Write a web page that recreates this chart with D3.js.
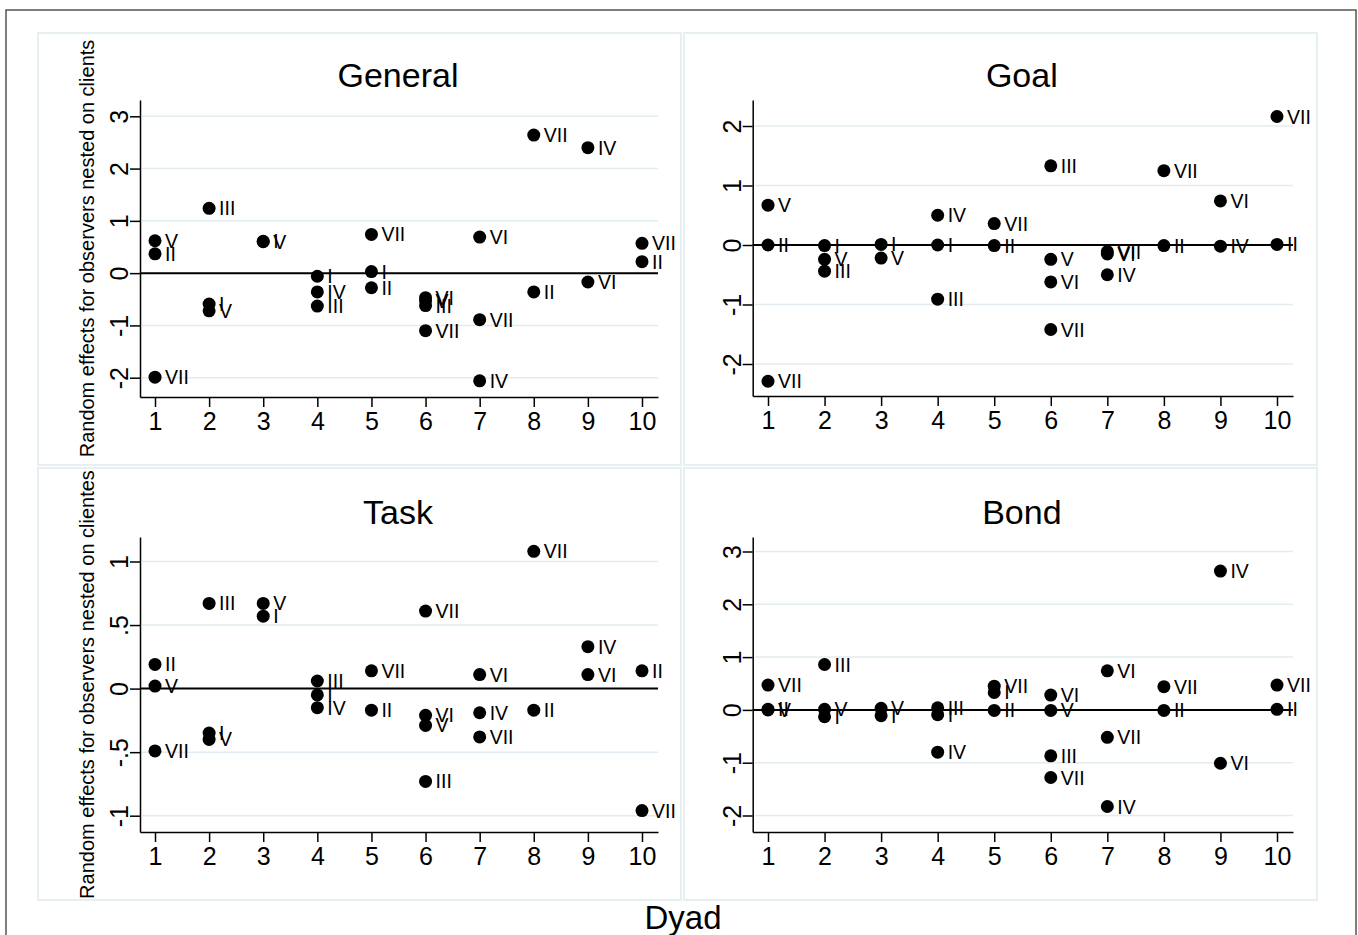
<!DOCTYPE html>
<html>
<head>
<meta charset="utf-8">
<script src="https://cdn.jsdelivr.net/npm/d3@7"></script>
<style>
  body { margin: 0; background: #fff; }
  text { font-family: "Liberation Sans", Arial, sans-serif; fill: #000; }
</style>
</head>
<body>
<svg id="chart" width="1358" height="935"></svg>
<script>
// Random effects per dyad: [dyad, observer, value]
var generalPts = [
  [1,'V',0.62],[1,'II',0.37],[1,'VII',-1.99],
  [2,'III',1.24],[2,'I',-0.59],[2,'V',-0.72],
  [3,'I',0.61],[3,'V',0.60],
  [4,'I',-0.06],[4,'IV',-0.36],[4,'III',-0.63],
  [5,'VII',0.74],[5,'I',0.03],[5,'II',-0.28],
  [6,'VI',-0.47],[6,'V',-0.53],[6,'III',-0.62],[6,'VII',-1.10],
  [7,'VI',0.69],[7,'VII',-0.89],[7,'IV',-2.06],
  [8,'VII',2.64],[8,'II',-0.36],
  [9,'IV',2.40],[9,'VI',-0.17],
  [10,'VII',0.57],[10,'II',0.22]
];
var goalPts = [
  [1,'V',0.67],[1,'II',0.0],[1,'VII',-2.29],
  [2,'I',-0.01],[2,'V',-0.24],[2,'III',-0.44],
  [3,'I',0.01],[3,'V',-0.22],
  [4,'IV',0.50],[4,'I',0.0],[4,'III',-0.91],
  [5,'VII',0.36],[5,'II',-0.01],
  [6,'III',1.33],[6,'V',-0.24],[6,'VI',-0.62],[6,'VII',-1.42],
  [7,'VII',-0.11],[7,'VI',-0.15],[7,'IV',-0.50],
  [8,'VII',1.25],[8,'II',-0.01],
  [9,'VI',0.74],[9,'IV',-0.02],
  [10,'VII',2.16],[10,'II',0.01]
];
var taskPts = [
  [1,'II',0.19],[1,'V',0.02],[1,'VII',-0.49],
  [2,'III',0.67],[2,'I',-0.35],[2,'V',-0.40],
  [3,'V',0.67],[3,'I',0.57],
  [4,'III',0.06],[4,'I',-0.05],[4,'IV',-0.15],
  [5,'VII',0.14],[5,'II',-0.17],
  [6,'VII',0.61],[6,'VI',-0.21],[6,'V',-0.29],[6,'III',-0.73],
  [7,'VI',0.11],[7,'IV',-0.19],[7,'VII',-0.38],
  [8,'VII',1.08],[8,'II',-0.17],
  [9,'IV',0.33],[9,'VI',0.11],
  [10,'II',0.14],[10,'VII',-0.96]
];
var bondPts = [
  [1,'VII',0.47],[1,'II',0.01],[1,'V',0.0],
  [2,'III',0.86],[2,'V',0.01],[2,'I',-0.13],
  [3,'V',0.03],[3,'I',-0.11],
  [4,'III',0.04],[4,'I',-0.09],[4,'IV',-0.80],
  [5,'VII',0.45],[5,'I',0.33],[5,'II',-0.01],
  [6,'VI',0.28],[6,'V',-0.01],[6,'III',-0.87],[6,'VII',-1.28],
  [7,'VI',0.74],[7,'VII',-0.52],[7,'IV',-1.83],
  [8,'VII',0.44],[8,'II',-0.01],
  [9,'IV',2.63],[9,'VI',-1.01],
  [10,'VII',0.47],[10,'II',0.01]
];

// Tick values and labels
var dyadTicks = [1, 2, 3, 4, 5, 6, 7, 8, 9, 10];
var generalTicks = [-2, -1, 0, 1, 2, 3];
var goalTicks = [-2, -1, 0, 1, 2];
var taskTicks = [-1, -0.5, 0, 0.5, 1];
var taskTickLabels = ['-1', '-.5', '0', '.5', '1'];
var bondTicks = [-2, -1, 0, 1, 2, 3];

var svg = d3.select('#chart');

// outer frame
svg.append('rect')
  .attr('x', 6).attr('y', 10).attr('width', 1350).attr('height', 940)
  .attr('fill', 'none').attr('stroke', '#555').attr('stroke-width', 1.5);

// panel layout (pixel geometry of each sub-graph)
var panels = [
  { title: 'General', pts: generalPts, ticks: generalTicks, labels: null,
    box: [38, 33, 643, 432], x0: 140, x1: 658, y0: 100, y1: 397,
    xa: [155, 642], ya: [[-2, 377.7], [3, 116.3]], ytitle: 'Random effects for observers nested on clients' },
  { title: 'Goal', pts: goalPts, ticks: goalTicks, labels: null,
    box: [684, 33, 633, 432], x0: 752.7, x1: 1293, y0: 100, y1: 396,
    xa: [768, 1277], ya: [[-2, 364], [2, 126]], ytitle: null },
  { title: 'Task', pts: taskPts, ticks: taskTicks, labels: taskTickLabels,
    box: [38, 468, 643, 432], x0: 140, x1: 658, y0: 537, y1: 832,
    xa: [155, 642], ya: [[-1, 815.7], [1, 561.5]], ytitle: 'Random effects for observers nested on clientes' },
  { title: 'Bond', pts: bondPts, ticks: bondTicks, labels: null,
    box: [684, 468, 633, 432], x0: 752.7, x1: 1293, y0: 537, y1: 832,
    xa: [768, 1277], ya: [[-2, 815.5], [3, 551.5]], ytitle: null }
];

panels.forEach(function(p) {
  var g = svg.append('g');

  g.append('rect')
    .attr('x', p.box[0]).attr('y', p.box[1])
    .attr('width', p.box[2]).attr('height', p.box[3])
    .attr('fill', '#fff').attr('stroke', '#e6eff2').attr('stroke-width', 2);

  // scales anchored on tick positions, then stretched to the axis extent
  var x = d3.scaleLinear().domain([1, 10]).range(p.xa);
  x.domain([x.invert(p.x0), x.invert(p.x1)]).range([p.x0, p.x1]);
  var y = d3.scaleLinear().domain([p.ya[0][0], p.ya[1][0]]).range([p.ya[0][1], p.ya[1][1]]);
  y.domain([y.invert(p.y1), y.invert(p.y0)]).range([p.y1, p.y0]);

  // grid lines
  g.selectAll('.grid').data(p.ticks).enter().append('line')
    .attr('x1', p.x0 + 2).attr('x2', p.x1)
    .attr('y1', function(d) { return y(d); })
    .attr('y2', function(d) { return y(d); })
    .attr('stroke', '#e2ecf0').attr('stroke-width', 1.5);

  // zero reference line
  g.append('line')
    .attr('x1', p.x0).attr('x2', p.x1)
    .attr('y1', y(0)).attr('y2', y(0))
    .attr('stroke', '#000').attr('stroke-width', 2);

  // y axis
  var yAxis = d3.axisLeft(y).tickValues(p.ticks).tickSize(10).tickSizeOuter(0)
    .tickFormat(function(d, i) { return p.labels ? p.labels[i] : String(d); });
  var ya = g.append('g').attr('transform', 'translate(' + p.x0 + ',0)').call(yAxis);
  ya.select('.domain').attr('stroke', '#000').attr('stroke-width', 1.5);
  ya.selectAll('.tick line').attr('stroke', '#000').attr('stroke-width', 1.5);
  ya.selectAll('.tick text')
    .attr('x', null).attr('dy', null)
    .attr('transform', 'translate(-12,0) rotate(-90)')
    .attr('text-anchor', 'middle')
    .style('font-size', '25px')
    .style('font-family', '"Liberation Sans", Arial, sans-serif');

  // x axis
  var xAxis = d3.axisBottom(x).tickValues(dyadTicks).tickSize(10).tickSizeOuter(0)
    .tickFormat(function(d) { return String(d); });
  var xa = g.append('g').attr('transform', 'translate(0,' + p.y1 + ')').call(xAxis);
  xa.select('.domain').attr('stroke', '#000').attr('stroke-width', 1.5);
  xa.selectAll('.tick line').attr('stroke', '#000').attr('stroke-width', 1.5);
  xa.selectAll('.tick text')
    .attr('y', 15)
    .style('font-size', '25px')
    .style('font-family', '"Liberation Sans", Arial, sans-serif');

  // panel title
  g.append('text')
    .attr('x', (p.x0 + p.x1) / 2 - 1).attr('y', p.y0 - 13)
    .attr('text-anchor', 'middle')
    .style('font-size', '34px')
    .text(p.title);

  // y axis title
  if (p.ytitle) {
    g.append('text')
      .attr('transform', 'translate(94,' + ((p.y0 + p.y1) / 2) + ') rotate(-90)')
      .attr('text-anchor', 'middle')
      .style('font-size', '20px')
      .text(p.ytitle);
  }

  // markers and observer labels
  g.selectAll('.dot').data(p.pts).enter().append('circle')
    .attr('cx', function(d) { return x(d[0]); })
    .attr('cy', function(d) { return y(d[2]); })
    .attr('r', 6.5)
    .attr('fill', '#000');

  g.selectAll('.lbl').data(p.pts).enter().append('text')
    .attr('x', function(d) { return x(d[0]) + 10; })
    .attr('y', function(d) { return y(d[2]); })
    .attr('dy', '0.36em')
    .style('font-size', '19.5px')
    .text(function(d) { return d[1]; });
});

// shared x title
svg.append('text')
  .attr('x', 683).attr('y', 929)
  .attr('text-anchor', 'middle')
  .style('font-size', '33px')
  .text('Dyad');
</script>
</body>
</html>
